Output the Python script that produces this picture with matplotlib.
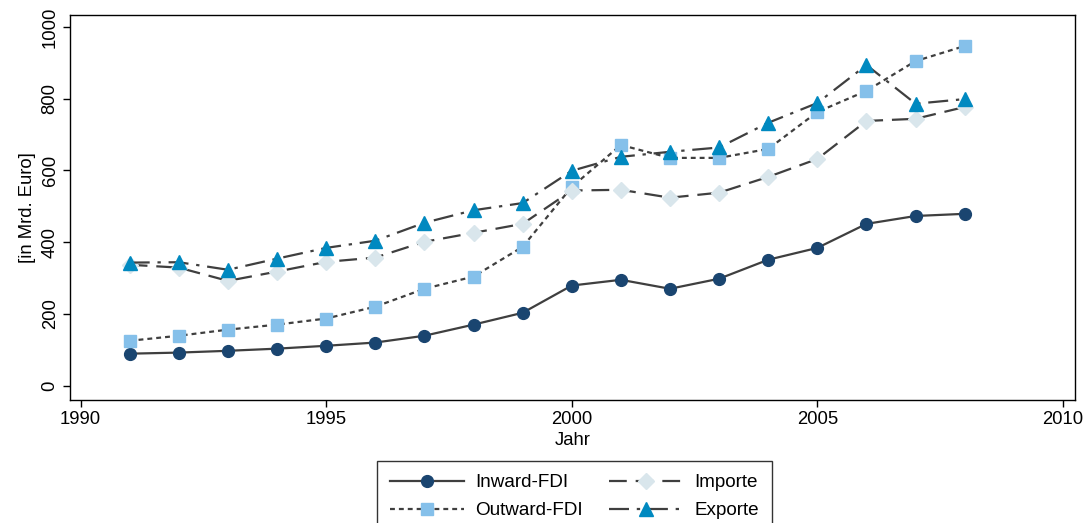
import matplotlib
matplotlib.use("Agg")
import matplotlib.pyplot as plt

plt.rcParams['font.family'] = ['Liberation Sans', 'DejaVu Sans']

jahre = list(range(1991, 2009))
inward_fdi = [89, 92, 97, 103, 111, 120, 139, 170, 203, 279, 295, 270, 298, 351, 384, 451, 473, 479]
outward_fdi = [125, 139, 156, 170, 187, 220, 270, 304, 387, 554, 671, 635, 635, 660, 763, 822, 905, 947]
importe = [337, 329, 292, 318, 345, 357, 401, 426, 451, 544, 546, 524, 538, 582, 632, 738, 744, 777]
exporte = [343, 344, 323, 354, 384, 404, 454, 489, 509, 599, 638, 652, 664, 733, 788, 894, 786, 799]

line_col = '#3f3f3f'
fs = 13.3
fig = plt.figure(figsize=(10.9, 5.23), dpi=100)
ax = fig.add_axes([0.064, 0.236, 0.922, 0.735])

ax.plot(jahre, inward_fdi, color=line_col, lw=1.6, ls='-', marker='o', ms=8.5,
        mfc='#1a4570', mec='#1a4570', label='Inward-FDI')
ax.plot(jahre, outward_fdi, color=line_col, lw=1.6, ls=(0, (2.2, 1.8)), marker='s', ms=8.5,
        mfc='#85c0ea', mec='#85c0ea', label='Outward-FDI')
ax.plot(jahre, importe, color=line_col, lw=1.6, ls=(0, (8, 4)), marker='D', ms=8,
        mfc='#d9e6ec', mec='#d9e6ec', label='Importe')
ax.plot(jahre, exporte, color=line_col, lw=1.6, ls=(0, (9, 3.5, 1.5, 3.5)), marker='^', ms=9.5,
        mfc='#0089c0', mec='#0089c0', label='Exporte')

ax.set_xlim(1989.78, 2010.24)
ax.set_ylim(-39, 1033)
ax.set_xticks([1990, 1995, 2000, 2005, 2010])
ax.set_yticks([0, 200, 400, 600, 800, 1000])
ax.tick_params(labelsize=fs, length=5, width=1, direction='out', pad=3)
for lbl in ax.get_yticklabels():
    lbl.set_rotation(90)
    lbl.set_va('center')
ax.set_xlabel('Jahr', fontsize=fs, labelpad=3)
ax.set_ylabel('[in Mrd. Euro]', fontsize=fs, labelpad=4)
for sp in ax.spines.values():
    sp.set_linewidth(1)

# legend below the plot, two columns, running off the bottom edge
handles, labels = ax.get_legend_handles_labels()
leg = fig.legend(handles, labels, loc='upper center', bbox_to_anchor=(0.527, 0.1186),
                 ncol=2, fontsize=13.6, frameon=True, fancybox=False, edgecolor='black',
                 handlelength=3.9, handletextpad=0.6, columnspacing=1.4,
                 borderpad=0.7, labelspacing=0.56, borderaxespad=0)
leg.get_frame().set_linewidth(1)

fig.savefig('out.png', dpi=100)
